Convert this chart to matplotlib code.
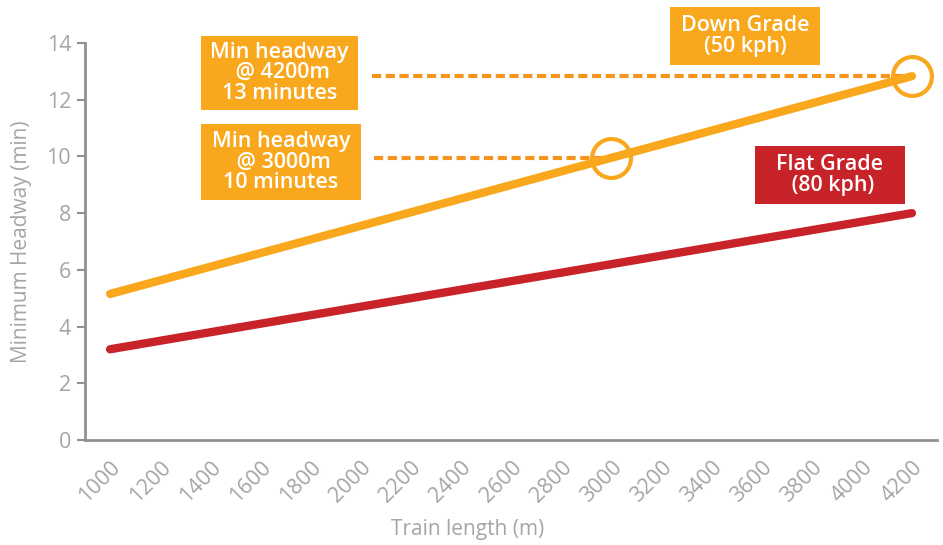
import matplotlib
matplotlib.use("Agg")
import matplotlib.pyplot as plt
import matplotlib.transforms as mtransforms
from matplotlib.patches import Rectangle

# headway vs train length
train_length = [1000, 1200, 1400, 1600, 1800, 2000, 2200, 2400, 2600,
                2800, 3000, 3200, 3400, 3600, 3800, 4000, 4200]
down_grade = [5.15, 5.63, 6.11, 6.59, 7.07, 7.55, 8.03, 8.51, 8.99,
              9.47, 9.95, 10.43, 10.91, 11.39, 11.87, 12.35, 12.83]
flat_grade = [3.2, 3.5, 3.8, 4.1, 4.4, 4.7, 5.0, 5.3, 5.6,
              5.9, 6.2, 6.5, 6.8, 7.1, 7.4, 7.7, 8.0]
callout_lengths = [4200, 3000]

ORANGE = "#F9A81E"
DASH = "#F7941D"
RED = "#C9232A"
GREY = "#A3A5A8"
AXIS = "#8F9094"

plt.rcParams["font.family"] = ["Open Sans", "DejaVu Sans"]

W, H = 943, 545
fig = plt.figure(figsize=(W / 100, H / 100), dpi=100)
ax = fig.add_axes([85 / W, 1 - 440 / H, 852 / W, 397 / H])

ax.plot(train_length, down_grade, color=ORANGE, lw=6, solid_capstyle="round", zorder=3)
ax.plot(train_length, flat_grade, color=RED, lw=6, solid_capstyle="round", zorder=3)

# circled points with dashed leaders to the callouts
for length, x_start in zip(callout_lengths, [2045, 2055]):
    y = down_grade[train_length.index(length)]
    ax.plot([x_start, length], [y, y], color=DASH, lw=3,
            linestyle=(0, (2.2, 1.1)), solid_capstyle="butt", zorder=2)
    ax.plot(length, y, "o", ms=28, mfc="none", mec=ORANGE, mew=3, zorder=4)

ax.set_xlim(900, 4300)
ax.set_ylim(0, 14)
ax.set_yticks(range(0, 15, 2))
ax.set_xticks(train_length)
ax.set_xticklabels([str(v) for v in train_length], rotation=45, ha="right",
                   rotation_mode="anchor")
offset = mtransforms.ScaledTranslation(11 / 100, 0, fig.dpi_scale_trans)
for lbl in ax.get_xticklabels():
    lbl.set_transform(lbl.get_transform() + offset)

for side in ["top", "right"]:
    ax.spines[side].set_visible(False)
for side in ["left", "bottom"]:
    ax.spines[side].set_color(AXIS)
    ax.spines[side].set_linewidth(2)
ax.tick_params(axis="y", length=6, width=1.5, color=AXIS, labelcolor=GREY,
               labelsize=15.5, pad=4)
ax.tick_params(axis="x", length=0, labelcolor=GREY, labelsize=15.5, pad=12)

ax.set_xlabel("Train length (m)", color=GREY, fontsize=15, va="center")
ax.set_ylabel("Minimum Headway (min)", color=GREY, fontsize=15, va="center")
ax.xaxis.set_label_coords(0.449, -0.225)
ax.yaxis.set_label_coords(-0.074, 0.5)


def callout(x0, y0, x1, y1, text, color):
    # box given in pixels from the top-left corner
    fig.add_artist(Rectangle((x0 / W, 1 - y1 / H), (x1 - x0) / W, (y1 - y0) / H,
                             transform=fig.transFigure, fc=color, ec="none"))
    fig.text((x0 + x1) / 2 / W, 1 - (y0 + y1) / 2 / H, text, color="white",
             fontsize=15.5, fontweight="semibold", ha="center", va="center",
             linespacing=0.98)


callout(201, 36, 358, 110,
        f"Min headway\n @ {callout_lengths[0]}m\n{round(down_grade[16])} minutes", ORANGE)
callout(201, 124, 361, 200,
        f"Min headway\n @ {callout_lengths[1]}m\n{round(down_grade[10])} minutes", ORANGE)
callout(670, 7, 820, 65, "Down Grade\n(50 kph)", ORANGE)
callout(755, 146, 905, 204, "Flat Grade\n (80 kph)", RED)

fig.savefig("out.png", dpi=100)
